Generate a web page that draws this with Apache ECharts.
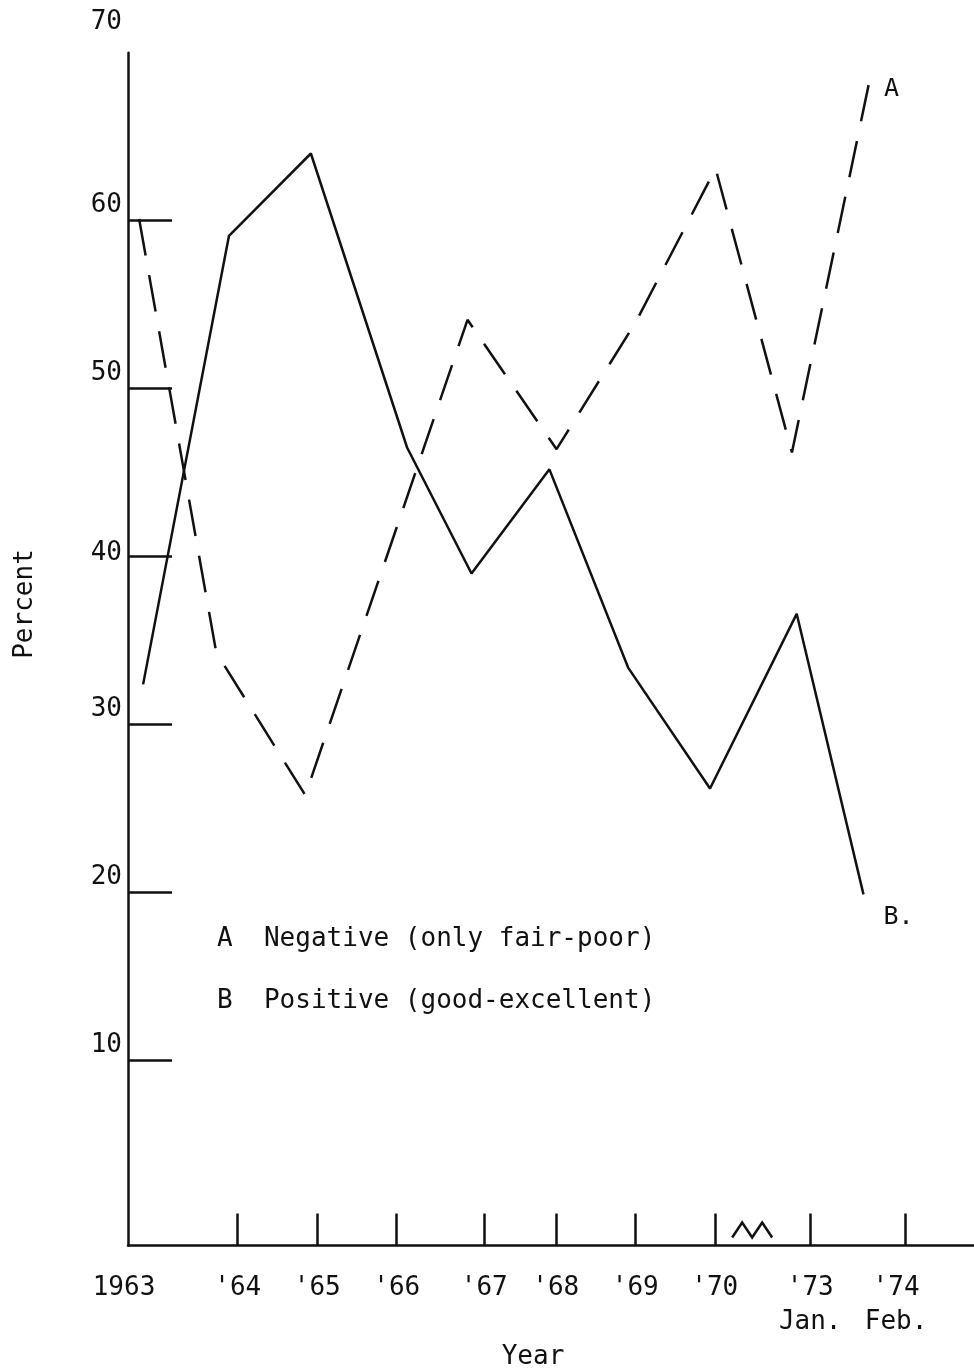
<!DOCTYPE html>
<html>
<head>
<meta charset="utf-8">
<script src="https://cdn.jsdelivr.net/npm/echarts@6/dist/echarts.min.js"></script>
<style>
  html, body { margin: 0; padding: 0; background: #fff; }
  #chart { width: 974px; height: 1368px; }
</style>
</head>
<body>
<div id="chart"></div>
<script>
// ---- data ----
const seriesLetters = ['A', 'B'];
const seriesNames = ['Negative (only fair-poor)', 'Positive (good-excellent)'];

// x in "year slots" ('64 = 1 ... '70 = 7, with a break before '73)
const negX = [-0.24, 0.73, 1.85, 3.89, 5.01, 6.01, 7.01, 7.97, 8.94];
const negY = [60.1, 34.3, 25.8, 54.1, 46.4, 54.0, 63.1, 46.2, 68.2];
const posX = [-0.19, 0.89, 1.92, 3.13, 3.94, 4.92, 5.91, 6.94, 8.03, 8.87];
const posY = [32.4, 59.1, 64.0, 46.5, 39.0, 45.2, 33.4, 26.2, 36.6, 19.9];

const xTickPos = [1, 2, 3, 4.1, 5, 6, 7, 8.2, 9.4];
const xLabelPos = [-0.38, 1, 2, 3, 4.1, 5, 6, 7, 8.2, 9.28];
const xLabelText = ["1963", "'64", "'65", "'66", "'67", "'68", "'69", "'70", "'73\nJan.", "'74\nFeb."];
const yTickVals = [10, 20, 30, 40, 50, 60];
const yLabelVals = [10, 20, 30, 40, 50, 60, 70];
const breakAt = 7.47;

const FONT = '"DejaVu Sans Mono", monospace';
const INK = '#111';

function pairs(xs, ys) { return xs.map((x, i) => [x, ys[i]]); }

const chart = echarts.init(document.getElementById('chart'), null, { renderer: 'canvas' });

const option = {
  backgroundColor: '#fff',
  animation: false,
  grid: { left: 128, right: 0, top: 52.7, bottom: 122.5, containLabel: false, outerBoundsMode: 'none' },
  xAxis: {
    type: 'value',
    min: -0.38,
    max: 10.26,
    name: 'Year',
    nameLocation: 'middle',
    nameGap: 92,
    nameTextStyle: { fontFamily: FONT, fontSize: 26, color: INK, padding: [0, 36, 0, 0] },
    axisLine: { show: true, onZero: false, lineStyle: { color: INK, width: 2.5 } },
    axisTick: { show: true, inside: true, length: 32, customValues: xTickPos, lineStyle: { color: INK, width: 2.5 } },
    axisLabel: {
      customValues: xLabelPos,
      margin: 26,
      fontFamily: FONT, fontSize: 26, color: INK, lineHeight: 34,
      formatter: function (v) {
        let best = 0;
        for (let i = 0; i < xLabelPos.length; i++) {
          if (Math.abs(xLabelPos[i] - v) < Math.abs(xLabelPos[best] - v)) best = i;
        }
        return best === 0 ? '{l|' + xLabelText[0] + '}' : xLabelText[best];
      },
      rich: { l: { fontFamily: FONT, fontSize: 26, color: INK, lineHeight: 34, padding: [0, 8, 0, 0] } }
    },
    splitLine: { show: false }
  },
  yAxis: {
    type: 'value',
    min: -1,
    max: 70,
    axisLine: { show: true, onZero: false, lineStyle: { color: INK, width: 2.5 } },
    axisTick: { show: true, inside: true, length: 44, customValues: yTickVals, lineStyle: { color: INK, width: 2.5 } },
    axisLabel: {
      customValues: yLabelVals,
      margin: 6,
      fontFamily: FONT, fontSize: 26, color: INK,
      formatter: function (v) {
        if (v === 40) return '{m|40}';
        if (v === 70) return '{t|70}';
        return '{u|' + v + '}';
      },
      rich: {
        u: { fontFamily: FONT, fontSize: 26, color: INK, padding: [0, 0, 30, 0] },
        m: { fontFamily: FONT, fontSize: 26, color: INK, padding: [0, 0, 6, 0] },
        t: { fontFamily: FONT, fontSize: 26, color: INK, padding: [0, 0, 60, 0] }
      }
    },
    splitLine: { show: false }
  },
  graphic: [
    {
      type: 'text', x: 25, y: 604, rotation: Math.PI / 2,
      style: { text: 'Percent', font: '26px ' + FONT, fill: INK, textAlign: 'center', textVerticalAlign: 'middle' }
    },
    {
      type: 'text', left: 217, top: 926,
      style: { text: seriesLetters[0] + '  ' + seriesNames[0], font: '26px ' + FONT, fill: INK }
    },
    {
      type: 'text', left: 217, top: 988,
      style: { text: seriesLetters[1] + '  ' + seriesNames[1], font: '26px ' + FONT, fill: INK }
    }
  ],
  series: [
    {
      name: seriesNames[0],
      type: 'line',
      data: pairs(negX, negY),
      showSymbol: false,
      symbol: 'none',
      lineStyle: { color: INK, width: 2.5, type: [37, 20], cap: 'butt' },
      endLabel: {
        show: true, formatter: seriesLetters[0], position: 'right', distance: 0,
        offset: [15, 7], fontFamily: FONT, fontSize: 25, color: INK
      },
      z: 3
    },
    {
      name: seriesNames[1],
      type: 'line',
      data: pairs(posX, posY),
      showSymbol: false,
      symbol: 'none',
      lineStyle: { color: INK, width: 2.5, type: 'solid' },
      endLabel: {
        show: true, formatter: seriesLetters[1] + '.', position: 'right', distance: 0,
        offset: [20, 23], fontFamily: FONT, fontSize: 25, color: INK
      },
      z: 3
    },
    {
      name: 'break',
      type: 'custom',
      silent: true,
      clip: false,
      data: [[breakAt, -1]],
      renderItem: function (params, api) {
        const p = api.coord([api.value(0), api.value(1)]);
        const pts = [[-20, -8], [-10, -23], [0, -8], [10, -23], [20, -8]].map(d => [p[0] + d[0], p[1] + d[1]]);
        return { type: 'polyline', shape: { points: pts }, style: { stroke: INK, lineWidth: 2.5, fill: null } };
      }
    }
  ]
};

chart.setOption(option);
</script>
</body>
</html>
